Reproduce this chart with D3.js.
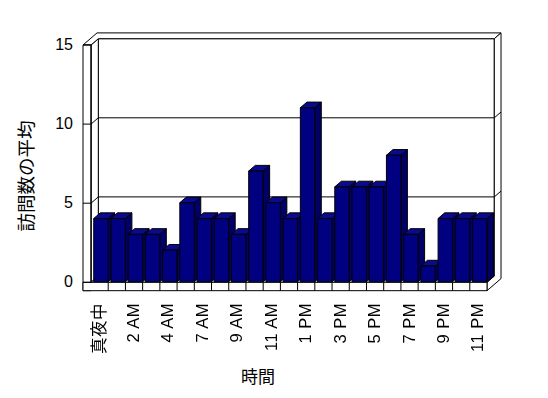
<!DOCTYPE html>
<html>
<head>
<meta charset="utf-8">
<script src="https://cdn.jsdelivr.net/npm/d3@7"></script>
<style>
    body { margin: 0; background: #fff; }
    text { font-family: "Liberation Sans", "Noto Sans CJK JP", sans-serif; }
</style>
</head>
<body>
<div id="chart"></div>
<script>
// Data
const hours = ["真夜中", "1 AM", "2 AM", "3 AM", "4 AM", "6 AM", "7 AM", "8 AM", "9 AM", "10 AM",
    "11 AM", "正午", "1 PM", "2 PM", "3 PM", "4 PM", "5 PM", "6 PM", "7 PM", "8 PM", "9 PM", "10 PM", "11 PM"];
const visits = [4, 4, 3, 3, 2, 5, 4, 4, 3, 7, 5, 4, 11, 4, 6, 6, 6, 8, 3, 1, 4, 4, 4];
const yTicks = [0, 5, 10, 15];
const yTitle = "訪問数の平均";
const xTitle = "時間";

const width = 548;
const height = 398;

const svg = d3.create("svg")
    .attr("width", width)
    .attr("height", height);

// grey filter, keeps the rotated labels from colour fringing
svg.append("defs").append("filter")
    .attr("id", "grey")
    .append("feColorMatrix")
    .attr("type", "saturate")
    .attr("values", 0);

// Scales (front plane)
const x = d3.scaleBand().domain(hours).range([91, 487]);
const y = d3.scaleLinear([0, 15], [282.3, 45]);

// Depth projection: z = 0 front, z = 1 back wall face
const dx = 7.3, dy = -6.3;
const wallT = 0.92;   // thickness of back wall (in depth units)
const floorT = -0.53; // floor slab bottom (in value units)
const leftOuter = 83;
const xl = x.range()[0], xr = x.range()[1];

function p(px, v, z) {
    return [px + z * dx, y(v) + z * dy];
}
function poly(pts, fill) {
    svg.append("polygon")
        .attr("points", pts.map(d => d.join(",")).join(" "))
        .attr("fill", fill)
        .attr("stroke", "#000")
        .attr("stroke-width", 1)
        .attr("stroke-linejoin", "round");
}
function line(a, b) {
    svg.append("line")
        .attr("x1", a[0]).attr("y1", a[1])
        .attr("x2", b[0]).attr("y2", b[1])
        .attr("stroke", "#000")
        .attr("stroke-width", 1);
}

// Back wall face
poly([p(xl, 0, 1), p(xl, 15, 1), p(xr, 15, 1), p(xr, 0, 1)], "#fff");
// Left wall inner face
poly([p(xl, 0, 0), p(xl, 15, 0), p(xl, 15, 1), p(xl, 0, 1)], "#fff");
// Top of left wall + back wall
poly([p(leftOuter, 15, 0), p(xl, 15, 0), p(xl, 15, 1), p(xr, 15, 1),
    p(xr, 15, 1 + wallT), p(leftOuter, 15, 1 + wallT)], "#fff");
// Right end of back wall and floor
poly([p(xr, 15, 1), p(xr, 15, 1 + wallT), p(xr, floorT, 1 + wallT),
    p(xr, floorT, 0), p(xr, 0, 0), p(xr, 0, 1)], "#fff");
// Floor top
poly([p(xl, 0, 0), p(xr, 0, 0), p(xr, 0, 1), p(xl, 0, 1)], "#fff");

// Gridlines
yTicks.filter(t => t > 0 && t < 15).forEach(t => {
    line(p(xl, t, 1), p(xr, t, 1));
    line(p(xl, t, 0), p(xl, t, 1));
    line(p(xr, t, 1), p(xr, t, 1 + wallT));
});

// Left wall front face and floor front face
poly([p(leftOuter, 15, 0), p(xl, 15, 0), p(xl, floorT, 0), p(leftOuter, floorT, 0)], "#fff");
poly([p(leftOuter, 0, 0), p(xr, 0, 0), p(xr, floorT, 0), p(leftOuter, floorT, 0)], "#fff");
line(p(xl, 0, 0), p(xl, 15, 0));
yTicks.forEach(t => line(p(leftOuter, t, 0), p(xl, t, 0)));
hours.slice(1).forEach(h => line(p(x(h), 0, 0), p(x(h), floorT, 0)));

// Bars
const bw = x.bandwidth();
const z0 = 0.08, z1 = 0.98;
hours.forEach((h, i) => {
    const v = visits[i];
    const b1 = x(h) + bw * 0.125;
    const b2 = b1 + bw * 0.835;
    poly([p(b2, 0, z0), p(b2, v, z0), p(b2, v, z1), p(b2, 0, z1)], "#000066");
    poly([p(b1, v, z0), p(b2, v, z0), p(b2, v, z1), p(b1, v, z1)], "#0a0a8c");
    poly([p(b1, 0, z0), p(b1, v, z0), p(b2, v, z0), p(b2, 0, z0)], "#000080");
});

// Y tick labels
svg.append("g")
    .selectAll("text")
    .data(yTicks)
    .join("text")
    .attr("x", 73)
    .attr("y", d => y(d) - 1)
    .attr("dy", "0.35em")
    .attr("text-anchor", "end")
    .attr("font-size", "16px")
    .attr("fill", "#000")
    .text(d => d);

// X tick labels (every other category)
svg.append("g")
    .attr("filter", "url(#grey)")
    .selectAll("text")
    .data(hours.filter((h, i) => i % 2 === 0))
    .join("text")
    .attr("transform", d => `translate(${Math.round(x(d) + bw / 2 - 1)},303) rotate(-90)`)
    .attr("dy", "0.35em")
    .attr("text-anchor", "end")
    .attr("font-size", "16.5px")
    .attr("letter-spacing", "0.5px")
    .attr("fill", "#000")
    .text(d => d);

// Axis titles
svg.append("text")
    .attr("transform", "translate(27,176) rotate(-90)")
    .attr("dy", "0.35em")
    .attr("text-anchor", "middle")
    .attr("font-size", "18.5px")
    .attr("fill", "#000")
    .text(yTitle);

svg.append("text")
    .attr("x", 258)
    .attr("y", 377)
    .attr("dy", "0.35em")
    .attr("text-anchor", "middle")
    .attr("font-size", "17px")
    .attr("fill", "#000")
    .text(xTitle);

document.getElementById("chart").appendChild(svg.node());
</script>
</body>
</html>
